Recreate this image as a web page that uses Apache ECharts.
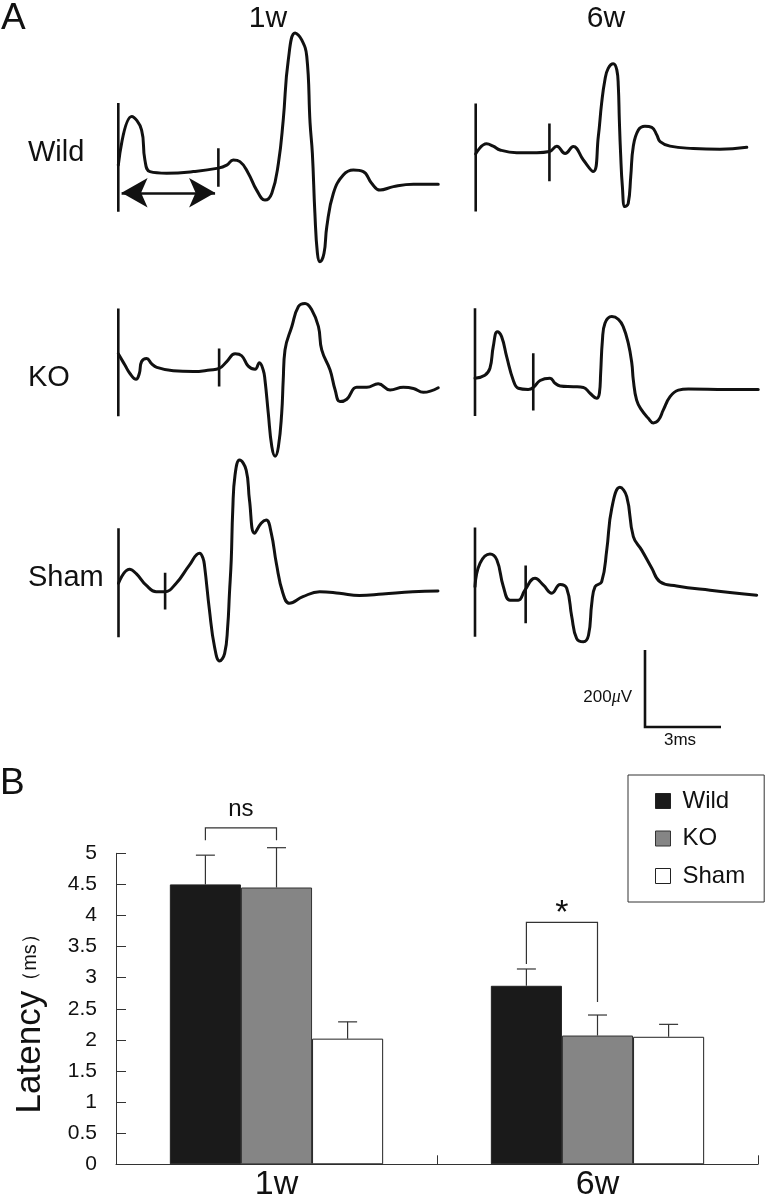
<!DOCTYPE html>
<html><head><meta charset="utf-8">
<script src="https://cdn.jsdelivr.net/npm/echarts/dist/echarts.min.js"></script>
<style>html,body{margin:0;padding:0;background:#fff}#c{width:770px;height:1199px}</style>
</head><body><div id="c"></div>
<script>
// ---------- Panel A: evoked potential traces, [time (ms), voltage (µV)] ----------
const wild1w = [[0,18],[0.53,144],[0.92,109],[1.05,31],[1.25,1],[1.91,-3],[2.96,1],[3.95,10],[4.28,18],[4.54,31],[4.80,27],[5.13,-3],[5.46,-47],[5.79,-73],[6.06,-55],[6.32,23],[6.51,135],[6.71,291],[6.98,361],[7.24,343],[7.44,300],[7.57,127],[7.66,49],[7.76,-107],[7.86,-211],[7.96,-233],[8.12,-211],[8.23,-142],[8.49,-55],[8.88,-8],[9.28,5],[9.67,1],[10.0,-29],[10.33,-47],[10.86,-38],[11.65,-32],[12.63,-32]];
const wild6w = [[0,-3],[0.43,23],[0.69,17],[0.96,7],[1.62,0],[2.41,0],[2.91,3],[3.20,17],[3.53,-2],[3.85,16],[4.25,-19],[4.64,-49],[4.84,42],[4.97,128],[5.10,189],[5.23,219],[5.43,231],[5.57,215],[5.63,172],[5.67,85],[5.72,-2],[5.79,-88],[5.89,-140],[6.02,-132],[6.12,-62],[6.22,16],[6.42,59],[6.68,69],[6.95,66],[7.15,46],[7.28,29],[7.67,17],[8.59,11],[9.64,9],[10.70,14]];
const ko1w = [[0,42],[0.26,13],[0.46,-9],[0.70,-24],[0.83,-9],[0.92,22],[1.12,30],[1.32,16],[1.52,7],[2.17,-2],[2.96,-4],[3.62,0],[3.98,4],[4.28,22],[4.61,42],[4.87,37],[5.13,10],[5.40,2],[5.57,19],[5.72,0],[5.79,-26],[5.92,-112],[6.06,-199],[6.19,-224],[6.32,-199],[6.45,-112],[6.51,-26],[6.58,52],[6.85,113],[7.11,165],[7.37,173],[7.64,156],[7.90,113],[8.03,52],[8.36,0],[8.56,-52],[8.75,-82],[9.02,-76],[9.41,-45],[9.81,-45],[10.26,-36],[10.73,-52],[11.25,-45],[11.65,-48],[12.04,-58],[12.63,-46]];
const ko6w = [[0,28],[0.39,36],[0.59,54],[0.72,110],[0.88,149],[1.05,136],[1.25,84],[1.51,23],[1.71,2],[2.10,-1],[2.30,4],[2.57,22],[2.96,28],[3.16,15],[3.36,8],[3.88,6],[4.28,4],[4.54,-11],[4.80,-24],[4.91,-11],[4.96,41],[5.03,127],[5.13,171],[5.40,188],[5.66,181],[5.85,162],[6.05,119],[6.19,67],[6.25,23],[6.38,-29],[6.58,-55],[6.84,-76],[7.04,-88],[7.24,-81],[7.43,-55],[7.70,-20],[8.03,-3],[8.42,0],[9.94,-1],[11.18,-1]];
const sham1w = [[0,22],[0.43,58],[0.70,47],[1.09,17],[1.49,0],[1.82,0],[2.28,22],[2.80,69],[3.20,100],[3.33,88],[3.40,65],[3.59,-48],[3.79,-143],[3.99,-180],[4.19,-160],[4.31,-91],[4.38,-4],[4.45,82],[4.51,212],[4.60,303],[4.78,342],[5.04,316],[5.17,238],[5.37,152],[5.63,178],[5.83,186],[6.03,152],[6.23,74],[6.49,-4],[6.75,-30],[7.28,-13],[7.94,0],[8.72,-4],[9.51,-10],[10.43,-6],[11.62,0],[12.61,2]];
const sham6w = [[0,0],[0.20,61],[0.59,85],[0.86,70],[1.12,0],[1.38,-35],[1.71,-35],[1.97,-9],[2.37,22],[2.70,4],[3.03,-17],[3.36,6],[3.62,-4],[3.82,-78],[4.01,-134],[4.28,-143],[4.48,-126],[4.61,-43],[4.74,0],[5.00,13],[5.20,95],[5.40,204],[5.72,258],[5.99,234],[6.25,130],[6.58,95],[6.98,48],[7.30,13],[7.96,2],[9.28,-9],[11.12,-22]];
// stimulus artefact line (µV top / bottom) and latency marker [t, top, bottom]
const stimTop    = [179, 128, 160, 210, 165, 154];
const stimBottom = [-103, -153, -120, -70, -118, -130];
const latencyMark = [[3.95,62,-38],[2.91,76,-74],[3.98,56,-43],[2.30,93,-56],[1.84,49,-46],[2.00,55,-95]];
const arrowSpan = [[0.13,-54],[3.82,-54]];
const scaleBar = [[0,200],[0,0],[3,0]];   // 200 µV / 3 ms
const groups = ['Wild','KO','Sham'];
const weeks = ['1w','6w'];

// ---------- Panel B: latency (ms) ----------
const wildMean = [4.50, 2.87], wildSem = [0.47, 0.27];
const koMean   = [4.45, 2.07], koSem   = [0.64, 0.33];
const shamMean = [2.02, 2.05], shamSem = [0.27, 0.20];
const sigTop = [5.41, 3.89], sigLeftEnd = [5.21, 3.22], sigRightEnd = [5.21, 2.61];
const sigLabel = ['ns', '*'];

// ---------- layout ----------
const FONT = 'Liberation Sans, Arial, Helvetica, sans-serif';
const K = 76 / 3;     // px per ms
const S = 77 / 200;   // px per µV
const traceLayout = [
  {x0:118.3, y0:172}, {x0:475.7, y0:152.7},
  {x0:118.3, y0:370}, {x0:475, y0:389},
  {x0:118.5, y0:591.7}, {x0:475, y0:586.7}
];
const traceData = [wild1w, wild6w, ko1w, ko6w, sham1w, sham6w];
const BAR_FRAC = 0.2215;
const INK = '#111';

const grid = [], xAxis = [], yAxis = [], series = [];
traceLayout.forEach((L, i) => {
  grid.push({left: L.x0, top: L.y0 - 400 * S, width: 13 * K, height: 700 * S, outerBoundsMode: 'none', containLabel: false});
  xAxis.push({type: 'value', gridIndex: i, min: 0, max: 13, show: false});
  yAxis.push({type: 'value', gridIndex: i, min: -300, max: 400, show: false});
  const common = {xAxisIndex: i, yAxisIndex: i, symbol: 'none', showSymbol: false, silent: true, clip: false, animation: false};
  const s = Object.assign({type: 'line', data: traceData[i], smooth: 0.45,
    lineStyle: {color: INK, width: 3, cap: 'round', join: 'round'}}, common);
  if (i === 0) {
    s.markLine = {silent: true, symbol: ['arrow', 'arrow'], symbolSize: [22, 26], label: {show: false},
      lineStyle: {type: 'solid', color: INK, width: 2.6}, animation: false,
      data: [[{coord: arrowSpan[0]}, {coord: arrowSpan[1]}]]};
  }
  series.push(s);
  series.push(Object.assign({type: 'line', data: [[0, stimTop[i]], [0, stimBottom[i]]],
    lineStyle: {color: INK, width: 2.6}}, common));
  const m = latencyMark[i];
  series.push(Object.assign({type: 'line', data: [[m[0], m[1]], [m[0], m[2]]],
    lineStyle: {color: INK, width: 2.6}}, common));
});

// scale bar grid (index 6)
grid.push({left: 645, top: 650, width: 76, height: 77, outerBoundsMode: 'none', containLabel: false});
xAxis.push({type: 'value', gridIndex: 6, min: 0, max: 3, show: false});
yAxis.push({type: 'value', gridIndex: 6, min: 0, max: 200, show: false});
series.push({type: 'line', xAxisIndex: 6, yAxisIndex: 6, data: scaleBar, symbol: 'none', silent: true, clip: false,
  lineStyle: {color: INK, width: 2.6, join: 'miter'}, animation: false});

// bar chart grid (index 7)
grid.push({left: 116, top: 853.3, width: 642, height: 311, outerBoundsMode: 'none', containLabel: false});
xAxis.push({type: 'category', gridIndex: 7, data: weeks,
  axisLine: {show: true, lineStyle: {color: '#333', width: 1}},
  axisTick: {show: true, inside: true, length: 9, lineStyle: {color: '#333', width: 1}},
  axisLabel: {fontSize: 34, color: INK, margin: 3, fontFamily: FONT},
  splitLine: {show: false}});
yAxis.push({type: 'value', gridIndex: 7, min: 0, max: 5, interval: 0.5,
  axisLine: {show: true, lineStyle: {color: '#333', width: 1}},
  axisTick: {show: true, inside: true, length: 10, lineStyle: {color: '#333', width: 1}},
  axisLabel: {fontSize: 21, color: INK, margin: 19, fontFamily: FONT},
  splitLine: {show: false},
  name: '{a|Latency}{b|（ms）}', nameLocation: 'middle', nameRotate: 90, nameGap: 68,
  nameTextStyle: {rich: {a: {fontSize: 35, fontFamily: FONT, color: INK},
    b: {fontSize: 20, fontFamily: FONT, color: INK, padding: [0, 20, 0, 0]}}}});

const barStyles = [
  {color: '#1a1a1a', borderColor: '#222', borderWidth: 1},
  {color: '#858585', borderColor: '#333', borderWidth: 1},
  {color: '#ffffff', borderColor: '#222', borderWidth: 1}
];
const means = [wildMean, koMean, shamMean];
const sems = [wildSem, koSem, shamSem];
groups.forEach((g, k) => {
  series.push({type: 'bar', name: g, xAxisIndex: 7, yAxisIndex: 7, data: means[k],
    barWidth: (BAR_FRAC * 100) + '%', barGap: '0%', itemStyle: barStyles[k], silent: true, animation: false});
});

// error bars
const errData = [];
groups.forEach((g, k) => weeks.forEach((w, c) => errData.push([c, k, means[k][c], sems[k][c]])));
series.push({type: 'custom', xAxisIndex: 7, yAxisIndex: 7, data: errData, silent: true, z: 5, animation: false,
  renderItem: function (params, api) {
    const c = api.value(0), k = api.value(1), m = api.value(2), e = api.value(3);
    const bw = api.size([1, 0])[0] * BAR_FRAC;
    const p1 = api.coord([c, m]), p2 = api.coord([c, m + e]);
    const x = p1[0] + (k - 1) * bw;
    const st = {stroke: '#333', lineWidth: 1.2, fill: null};
    return {type: 'group', children: [
      {type: 'line', shape: {x1: x, y1: p1[1], x2: x, y2: p2[1]}, style: st},
      {type: 'line', shape: {x1: x - 9.5, y1: p2[1], x2: x + 9.5, y2: p2[1]}, style: st}
    ]};
  }});

// significance brackets (Wild vs KO)
const sigData = weeks.map((w, c) => [c, sigTop[c], sigLeftEnd[c], sigRightEnd[c]]);
const sigTextStyle = [{fontSize: 24, dy: -18}, {fontSize: 34, dy: -9}];
series.push({type: 'custom', xAxisIndex: 7, yAxisIndex: 7, data: sigData, silent: true, z: 6, animation: false,
  renderItem: function (params, api) {
    const c = api.value(0);
    const bw = api.size([1, 0])[0] * BAR_FRAC;
    const pt = api.coord([c, api.value(1)]);
    const yl = api.coord([c, api.value(2)])[1], yr = api.coord([c, api.value(3)])[1];
    const x1 = pt[0] - bw, x2 = pt[0];
    const ts = sigTextStyle[params.dataIndex];
    return {type: 'group', children: [
      {type: 'polyline', shape: {points: [[x1, yl], [x1, pt[1]], [x2, pt[1]], [x2, yr]]},
        style: {stroke: '#333', lineWidth: 1.2, fill: null}},
      {type: 'text', x: (x1 + x2) / 2, y: pt[1] + ts.dy,
        style: {text: sigLabel[params.dataIndex], fontSize: ts.fontSize, fontFamily: FONT, fill: INK,
          align: 'center', verticalAlign: 'middle', textAlign: 'center', textVerticalAlign: 'middle'}}
    ]};
  }});

function txt(text, x, y, size, align, extra) {
  return Object.assign({type: 'text', x: x, y: y, silent: true,
    style: Object.assign({text: text, fontSize: size, fontFamily: FONT, fill: INK,
      align: align, verticalAlign: 'middle', textAlign: align, textVerticalAlign: 'middle'}, extra || {})});
}

const option = {
  animation: false,
  backgroundColor: '#fff',
  grid: grid, xAxis: xAxis, yAxis: yAxis, series: series,
  legend: {
    show: true, orient: 'vertical', left: 628, top: 775,
    padding: [14, 19, 14, 27], itemGap: 13.5, itemWidth: 15, itemHeight: 15, icon: 'rect',
    borderColor: '#333', borderWidth: 1, backgroundColor: '#fff',
    selectedMode: false,
    textStyle: {fontSize: 24, fontFamily: FONT, color: INK, padding: [0, 0, 0, 7]},
    data: groups.map((g, k) => ({name: g, itemStyle: barStyles[k]}))
  },
  graphic: [
    txt('A', 1, 19, 37, 'left'),
    txt('B', 0, 784, 37, 'left'),
    txt(weeks[0], 268, 19, 30, 'center'),
    txt(weeks[1], 606, 19, 30, 'center'),
    txt(groups[0], 28, 153, 29, 'left'),
    txt(groups[1], 28, 378, 29, 'left'),
    txt(groups[2], 28, 578, 29, 'left'),
    txt('200{m|μ}V', 632, 697, 17, 'right', {rich: {m: {fontSize: 18, fontStyle: 'italic', fontFamily: 'Liberation Serif, serif', fill: INK}}}),
    txt('3ms', 680, 740, 17, 'center')
  ]
};
const chart = echarts.init(document.getElementById('c'), null, {renderer: 'canvas'});
chart.setOption(option);
</script></body></html>
